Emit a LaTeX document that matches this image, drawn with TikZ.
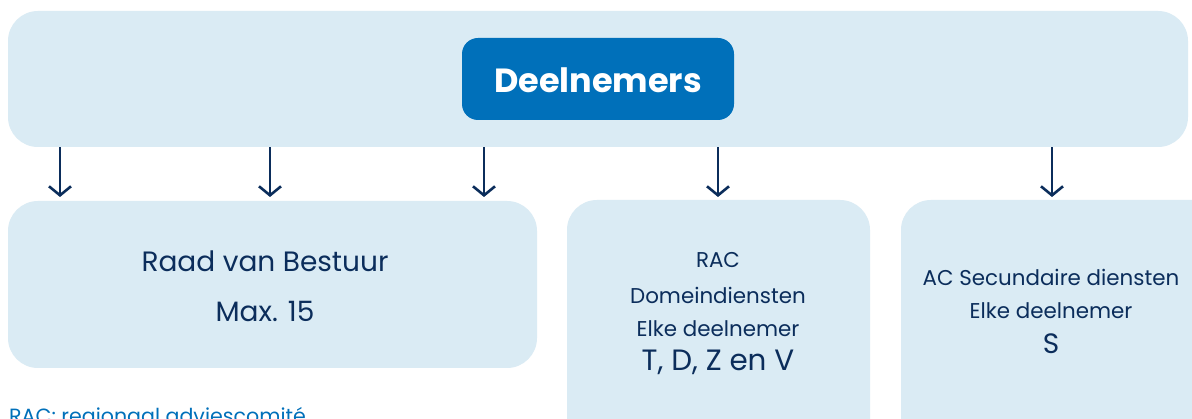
\documentclass[tikz,border=0pt]{standalone}
\usepackage{fontspec}
\setmainfont{Poppins}
\usetikzlibrary{arrows.meta}
\definecolor{lightfill}{HTML}{DAEBF4}
\definecolor{navy}{HTML}{0B2D5B}
\definecolor{mainblue}{HTML}{0070BA}
\tikzset{
  panel/.style={fill=lightfill, draw=none, rounded corners=30pt},
  txt/.style={text=navy, anchor=base, inner sep=0pt, font=\fontsize{21.4}{25}\selectfont},
  bigtxt/.style={txt, font=\fontsize{28}{32}\selectfont},
  arr/.style={draw=navy, line width=2.6pt, -{Straight Barb[length=9pt, width=22pt, line width=2.6pt]}},
}
\begin{document}
\begin{tikzpicture}[x=1pt, y=-1pt]
\useasboundingbox (0,0) rectangle (1192,419);
\clip (0,0) rectangle (1192,419);
\fill[white] (0,0) rectangle (1192,419);
% panels
\path[panel] (8,11) rectangle (1188,147);
\node[inner sep=0pt, minimum width=1180pt, minimum height=136pt] (band) at (598,79) {};
\path[panel] (8,201) rectangle (537,368);
\node[inner sep=0pt, minimum width=529pt, minimum height=167pt] (rvb) at (272.5,284.5) {};
\path[panel] (567,200) rectangle (870,460);
\node[inner sep=0pt, minimum width=303pt, minimum height=219pt] (rac) at (718.5,309.5) {};
\path[panel] (901,200) rectangle (1230,460);
\node[inner sep=0pt, minimum width=291pt, minimum height=219pt] (acs) at (1046.5,309.5) {};
% title
\path[fill=mainblue, rounded corners=16pt] (462,38) rectangle (734,120);
\node[text=white, inner sep=0pt, anchor=base, font=\fontsize{33.5}{38}\selectfont\bfseries] (title) at (598,93) {Deelnemers};
% arrows
\coordinate (p1) at (60,197);
\coordinate (p2) at (270,197);
\coordinate (p3) at (484,197);
\coordinate (p4) at (718,197);
\coordinate (p5) at (1052,197);
\foreach \p in {p1,p2,p3,p4,p5}{
  \draw[arr] (band.south -| \p) -- (\p);
}
% texts
\node[bigtxt] (t1) at (265,272) {Raad van Bestuur};
\node[bigtxt] (t2) at (265,322) {Max. 15};
\node[txt] (t3) at (718,268) {RAC};
\node[txt] (t4) at (718,304) {Domeindiensten};
\node[txt] (t5) at (718,337) {Elke deelnemer};
\node[txt, font=\fontsize{29.4}{33}\selectfont] (t6) at (718,371) {T, D, Z en V};
\node[txt] (t7) at (1051,286) {AC Secundaire diensten};
\node[txt] (t8) at (1051,319) {Elke deelnemer};
\node[txt, font=\fontsize{28}{32}\selectfont] (t9) at (1051,354) {S};
\node[txt, text=mainblue, anchor=base west, font=\fontsize{20.6}{24}\selectfont] (fn) at (9,424) {RAC: regionaal adviescomité};
\end{tikzpicture}
\end{document}
